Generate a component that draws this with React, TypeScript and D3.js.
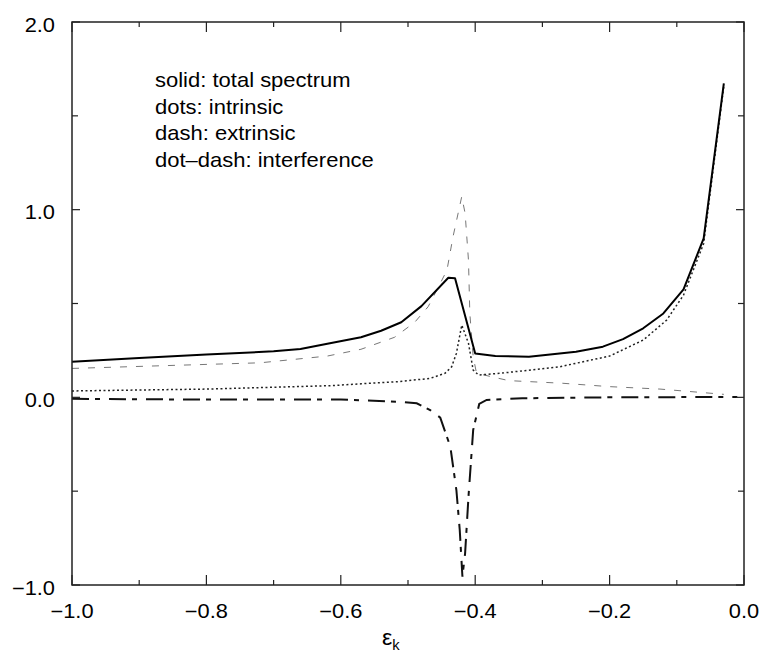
import React from "react";
import * as d3 from "d3";

// ---- data ----
const totalX = [-1.0, -0.9, -0.8, -0.7, -0.66, -0.62, -0.57, -0.54, -0.51, -0.48, -0.44, -0.43, -0.40, -0.37, -0.32, -0.25, -0.21, -0.18, -0.15, -0.12, -0.09, -0.06, -0.03];
const totalY = [0.19, 0.21, 0.228, 0.245, 0.257, 0.285, 0.32, 0.355, 0.40, 0.486, 0.637, 0.634, 0.234, 0.22, 0.216, 0.243, 0.27, 0.31, 0.368, 0.447, 0.575, 0.847, 1.673];

const intrinsicX = [-1.0, -0.8, -0.616, -0.57, -0.517, -0.467, -0.445, -0.435, -0.428, -0.42, -0.41, -0.403, -0.395, -0.363, -0.274, -0.2, -0.15, -0.115, -0.09, -0.06, -0.03];
const intrinsicY = [0.034, 0.044, 0.062, 0.072, 0.083, 0.101, 0.128, 0.163, 0.234, 0.385, 0.288, 0.145, 0.119, 0.128, 0.163, 0.22, 0.305, 0.412, 0.545, 0.82, 1.66];

const extrinsicX = [-1.0, -0.87, -0.72, -0.62, -0.57, -0.52, -0.49, -0.47, -0.457, -0.442, -0.433, -0.42, -0.415, -0.41, -0.408, -0.403, -0.398, -0.35, -0.27, -0.2, -0.125, -0.03];
const extrinsicY = [0.154, 0.168, 0.184, 0.22, 0.256, 0.32, 0.40, 0.483, 0.572, 0.678, 0.856, 1.07, 0.98, 0.73, 0.447, 0.216, 0.128, 0.089, 0.075, 0.057, 0.044, 0.016];

const interfX = [-1.0, -0.8, -0.6, -0.517, -0.487, -0.467, -0.452, -0.437, -0.428, -0.423, -0.419, -0.415, -0.41, -0.403, -0.394, -0.383, -0.33, -0.2, -0.01];
const interfY = [-0.008, -0.012, -0.012, -0.023, -0.032, -0.068, -0.108, -0.263, -0.494, -0.707, -0.956, -0.83, -0.53, -0.174, -0.035, -0.014, -0.005, 0.0, 0.002];

const xMajorTicks = [-1.0, -0.8, -0.6, -0.4, -0.2, 0.0];
const xMinorTicks = [-0.9, -0.7, -0.5, -0.3, -0.1];
const yMajorTicks = [-1.0, 0.0, 1.0, 2.0];
const yMinorTicks = [-0.5, 0.5, 1.5];
const legendLines = ["solid: total spectrum", "dots: intrinsic", "dash: extrinsic", "dot\u2013dash: interference"];

const fmt = (v: number) => (v < 0 ? "\u2212" : "") + Math.abs(v).toFixed(1);

export default function App() {
  const W = 764, H = 653;
  const left = 72, right = 744, top = 22, bottom = 585;
  const x = d3.scaleLinear().domain([-1, 0]).range([left, right]);
  const y = d3.scaleLinear().domain([-1, 2]).range([bottom, top]);
  const line = d3.line<[number, number]>().x(d => x(d[0])).y(d => y(d[1]));
  const path = (xs: number[], ys: number[]) => line(xs.map((v, i) => [v, ys[i]] as [number, number])) || "";
  const font = "'Liberation Sans', Arial, Helvetica, sans-serif";
  const sx = 1.12;

  return (
    <svg width={W} height={H} style={{ position: "absolute", left: 0, top: 0, background: "#fff" }} fontFamily={font}>
      <rect x={0} y={0} width={W} height={H} fill="#fff" />
      {/* curves */}
      <path d={path(extrinsicX, extrinsicY)} fill="none" stroke="#777" strokeWidth={1} strokeDasharray="7,9" />
      <path d={path(intrinsicX, intrinsicY)} fill="none" stroke="#222" strokeWidth={1.5} strokeDasharray="2,2.5" />
      <path d={path(interfX, interfY)} fill="none" stroke="#111" strokeWidth={2} strokeDasharray="17,6,5,9" />
      <path d={path(totalX, totalY)} fill="none" stroke="#000" strokeWidth={2} strokeLinejoin="round" />
      {/* frame */}
      <rect x={left} y={top} width={right - left} height={bottom - top} fill="none" stroke="#222" strokeWidth={1.5} />
      {/* ticks */}
      {xMajorTicks.map(t => (
        <g key={"xM" + t}>
          <line x1={x(t)} x2={x(t)} y1={bottom} y2={bottom - 10} stroke="#222" strokeWidth={1.2} />
          <line x1={x(t)} x2={x(t)} y1={top} y2={top + 10} stroke="#222" strokeWidth={1.2} />
          <text transform={`translate(${x(t)},618) scale(${sx},1)`} fontSize={19.5} textAnchor="middle">{fmt(t)}</text>
        </g>
      ))}
      {xMinorTicks.map(t => (
        <g key={"xm" + t}>
          <line x1={x(t)} x2={x(t)} y1={bottom} y2={bottom - 5} stroke="#222" strokeWidth={1.2} />
          <line x1={x(t)} x2={x(t)} y1={top} y2={top + 5} stroke="#222" strokeWidth={1.2} />
        </g>
      ))}
      {yMajorTicks.map(t => (
        <g key={"yM" + t}>
          <line x1={left} x2={left + 8} y1={y(t)} y2={y(t)} stroke="#222" strokeWidth={1.2} />
          <line x1={right} x2={right - 8} y1={y(t)} y2={y(t)} stroke="#222" strokeWidth={1.2} />
          <text transform={`translate(55,${y(t) + 9.5}) scale(${sx},1)`} fontSize={19.5} textAnchor="end">{fmt(t)}</text>
        </g>
      ))}
      {yMinorTicks.map(t => (
        <g key={"ym" + t}>
          <line x1={left} x2={left + 6} y1={y(t)} y2={y(t)} stroke="#222" strokeWidth={1.2} />
          <line x1={right} x2={right - 6} y1={y(t)} y2={y(t)} stroke="#222" strokeWidth={1.2} />
        </g>
      ))}
      {/* legend text */}
      {legendLines.map((s, i) => (
        <text key={s} transform={`translate(155,${87 + i * 26.5}) scale(1.1,1)`} fontSize={20}>{s}</text>
      ))}
      {/* x-axis label */}
      <text transform={`translate(382,645) scale(1.05,1)`} fontSize={22}>
        ε<tspan fontSize={14} dy={5}>k</tspan>
      </text>
    </svg>
  );
}
